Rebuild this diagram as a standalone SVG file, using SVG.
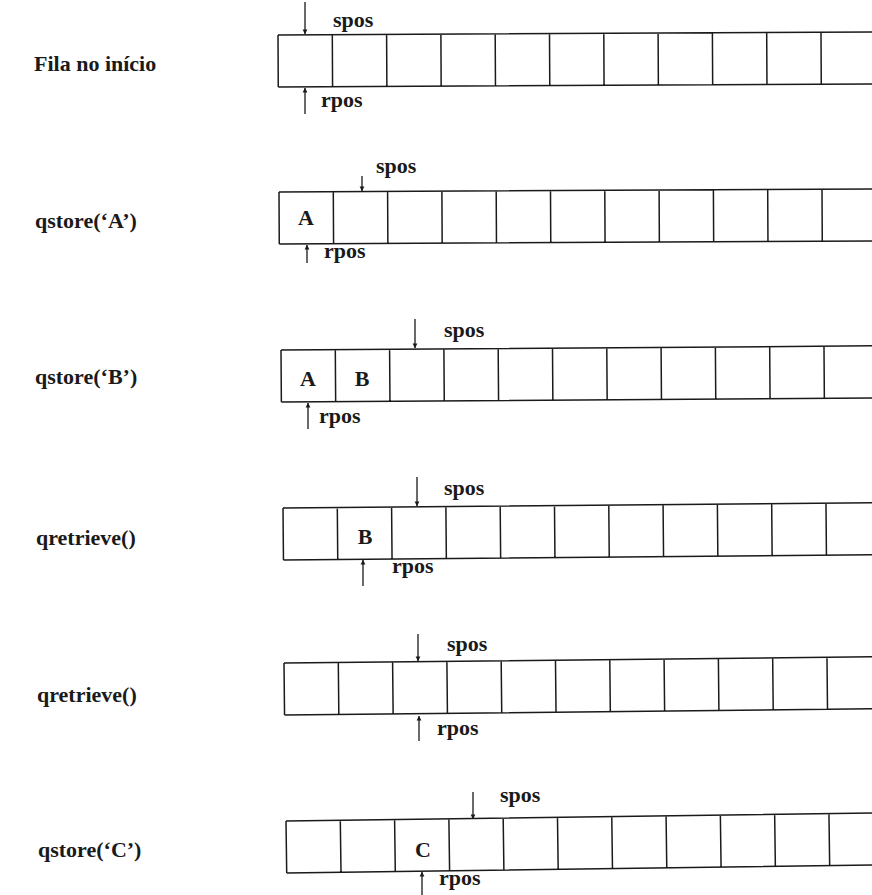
<svg xmlns="http://www.w3.org/2000/svg" width="872" height="895" viewBox="0 0 872 895">
<style>
text{font-family:"Liberation Serif","Times New Roman",serif;font-weight:bold;fill:#1a1a1a}
.lbl{font-size:22px}
.ptr{font-size:22px}
.val{font-size:22px;text-anchor:middle}
.grid{fill:none;stroke:#1a1a1a;stroke-width:1.5}
.arr{stroke:#1a1a1a;stroke-width:1.3;marker-end:url(#ah)}
</style>
<defs>
<marker id="ah" viewBox="0 0 8 10" refX="7.5" refY="5" markerWidth="5" markerHeight="6" orient="auto" markerUnits="userSpaceOnUse">
<path d="M0,1 L8,5 L0,9 Z" fill="#1a1a1a"/>
</marker>
<path id="cells" d="M0,0 H610 M0,52 H610 M0,0 V52 M54.3,0 V52 M108.6,0 V52 M162.9,0 V52 M217.2,0 V52 M271.5,0 V52 M325.8,0 V52 M380.1,0 V52 M434.4,0 V52 M488.7,0 V52 M543,0 V52"/>
</defs>
<rect width="872" height="895" fill="#fff"/>

<g id="row1">
<text class="lbl" x="34" y="71">Fila no início</text>
<use href="#cells" class="grid" transform="translate(278,35) rotate(-0.3)"/>
<text class="ptr" x="333" y="27">spos</text>
<text class="ptr" x="321" y="107">rpos</text>
</g>

<g id="row2">
<text class="lbl" x="35" y="228">qstore(‘A’)</text>
<use href="#cells" class="grid" transform="translate(279,192) rotate(-0.3)"/>
<text class="val" x="306" y="225">A</text>
<text class="ptr" x="376" y="173">spos</text>
<text class="ptr" x="324" y="258">rpos</text>
</g>

<g id="row3">
<text class="lbl" x="35" y="384">qstore(‘B’)</text>
<use href="#cells" class="grid" transform="translate(281,350) rotate(-0.4)"/>
<text class="val" x="308" y="386">A</text>
<text class="val" x="362" y="386">B</text>
<text class="ptr" x="444" y="337">spos</text>
<text class="ptr" x="319" y="423">rpos</text>
</g>

<g id="row4">
<text class="lbl" x="36" y="545">qretrieve()</text>
<use href="#cells" class="grid" transform="translate(283,508) rotate(-0.5)"/>
<text class="val" x="365" y="544">B</text>
<text class="ptr" x="444" y="495">spos</text>
<text class="ptr" x="392" y="573">rpos</text>
</g>

<g id="row5">
<text class="lbl" x="37" y="702">qretrieve()</text>
<use href="#cells" class="grid" transform="translate(284,663) rotate(-0.6)"/>
<text class="ptr" x="447" y="651">spos</text>
<text class="ptr" x="437" y="735">rpos</text>
</g>

<g id="row6">
<text class="lbl" x="38" y="857">qstore(‘C’)</text>
<use href="#cells" class="grid" transform="translate(286,821) rotate(-0.78)"/>
<text class="val" x="423" y="857">C</text>
<text class="ptr" x="500" y="802">spos</text>
<text class="ptr" x="439" y="885">rpos</text>
</g>

<g id="connectors">
<line class="arr" x1="305" y1="2" x2="305" y2="34"/>
<line class="arr" x1="305" y1="114" x2="305" y2="88"/>
<line class="arr" x1="362" y1="176" x2="362" y2="191"/>
<line class="arr" x1="307" y1="263" x2="307" y2="245"/>
<line class="arr" x1="415" y1="319" x2="415" y2="348"/>
<line class="arr" x1="308" y1="429" x2="308" y2="403"/>
<line class="arr" x1="417" y1="477" x2="417" y2="506"/>
<line class="arr" x1="363" y1="586" x2="363" y2="560"/>
<line class="arr" x1="418" y1="634" x2="418" y2="661"/>
<line class="arr" x1="419" y1="741" x2="419" y2="716"/>
<line class="arr" x1="473" y1="792" x2="473" y2="819"/>
<line class="arr" x1="422" y1="895" x2="422" y2="872"/>
</g>
</svg>
